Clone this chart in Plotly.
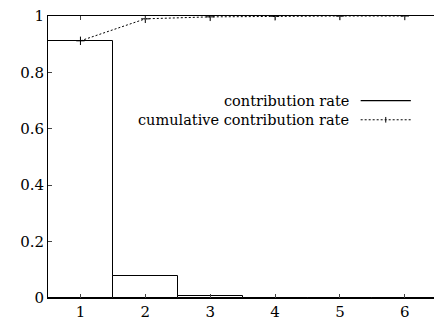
import plotly.graph_objects as go

components = [1, 2, 3, 4, 5, 6]
contribution = [0.912, 0.079, 0.006, 0.0008, 0.0004, 0.0002]
cumulative = [0.912, 0.99, 0.997, 0.999, 1.0, 1.0]
y_ticks = [0, 0.2, 0.4, 0.6, 0.8, 1]
y_tick_labels = ["0", "0.2", "0.4", "0.6", "0.8", "1"]
legend_labels = ["contribution rate", "cumulative contribution rate"]

FONT = "DejaVu Serif"

fig = go.Figure()
fig.add_trace(go.Bar(
    x=components, y=contribution, width=1,
    marker=dict(color="white", line=dict(color="black", width=1)),
    showlegend=False,
))
fig.add_trace(go.Scatter(
    x=components, y=cumulative, mode="lines",
    line=dict(color="black", width=1, dash="2px,2px"),
    showlegend=False,
))
fig.add_trace(go.Scatter(
    x=components, y=cumulative, mode="markers",
    marker=dict(symbol="cross-thin-open", size=6, color="black",
                line=dict(color="black", width=1)),
    showlegend=False,
))

for i, lab in enumerate(legend_labels):
    ypos = 0.70 - i * 0.068
    fig.add_annotation(x=0.785, y=ypos, xref="paper", yref="paper", text=lab,
                       showarrow=False, xanchor="right", yanchor="middle",
                       font=dict(family=FONT, size=14.5, color="black"))
    fig.add_shape(type="line", xref="paper", yref="paper",
                  x0=0.81, x1=0.94, y0=ypos, y1=ypos,
                  line=dict(color="black", width=1.2 if i == 0 else 1,
                            dash="solid" if i == 0 else "2px,2px"))
    if i == 1:
        fig.add_shape(type="line", xref="paper", yref="paper",
                      x0=0.875, x1=0.875, y0=ypos - 0.01, y1=ypos + 0.01,
                      line=dict(color="black", width=1))

fig.update_layout(
    width=434, height=323,
    margin=dict(l=48, r=0, t=16, b=25),
    paper_bgcolor="white", plot_bgcolor="white",
    font=dict(family=FONT, size=15, color="black"),
    bargap=0,
    xaxis=dict(range=[0.5, 6.45], tickvals=components, ticks="inside", ticklen=4,
               showline=True, linecolor="black", linewidth=1, mirror="allticks",
               showgrid=False, zeroline=False, tickfont=dict(family=FONT, size=15)),
    yaxis=dict(range=[0, 1], tickvals=y_ticks, ticktext=y_tick_labels,
               ticks="inside", ticklen=4, showline=True, linecolor="black",
               linewidth=1, mirror=False, showgrid=False, zeroline=False,
               tickfont=dict(family=FONT, size=15)),
)

fig.write_html("out.html")
